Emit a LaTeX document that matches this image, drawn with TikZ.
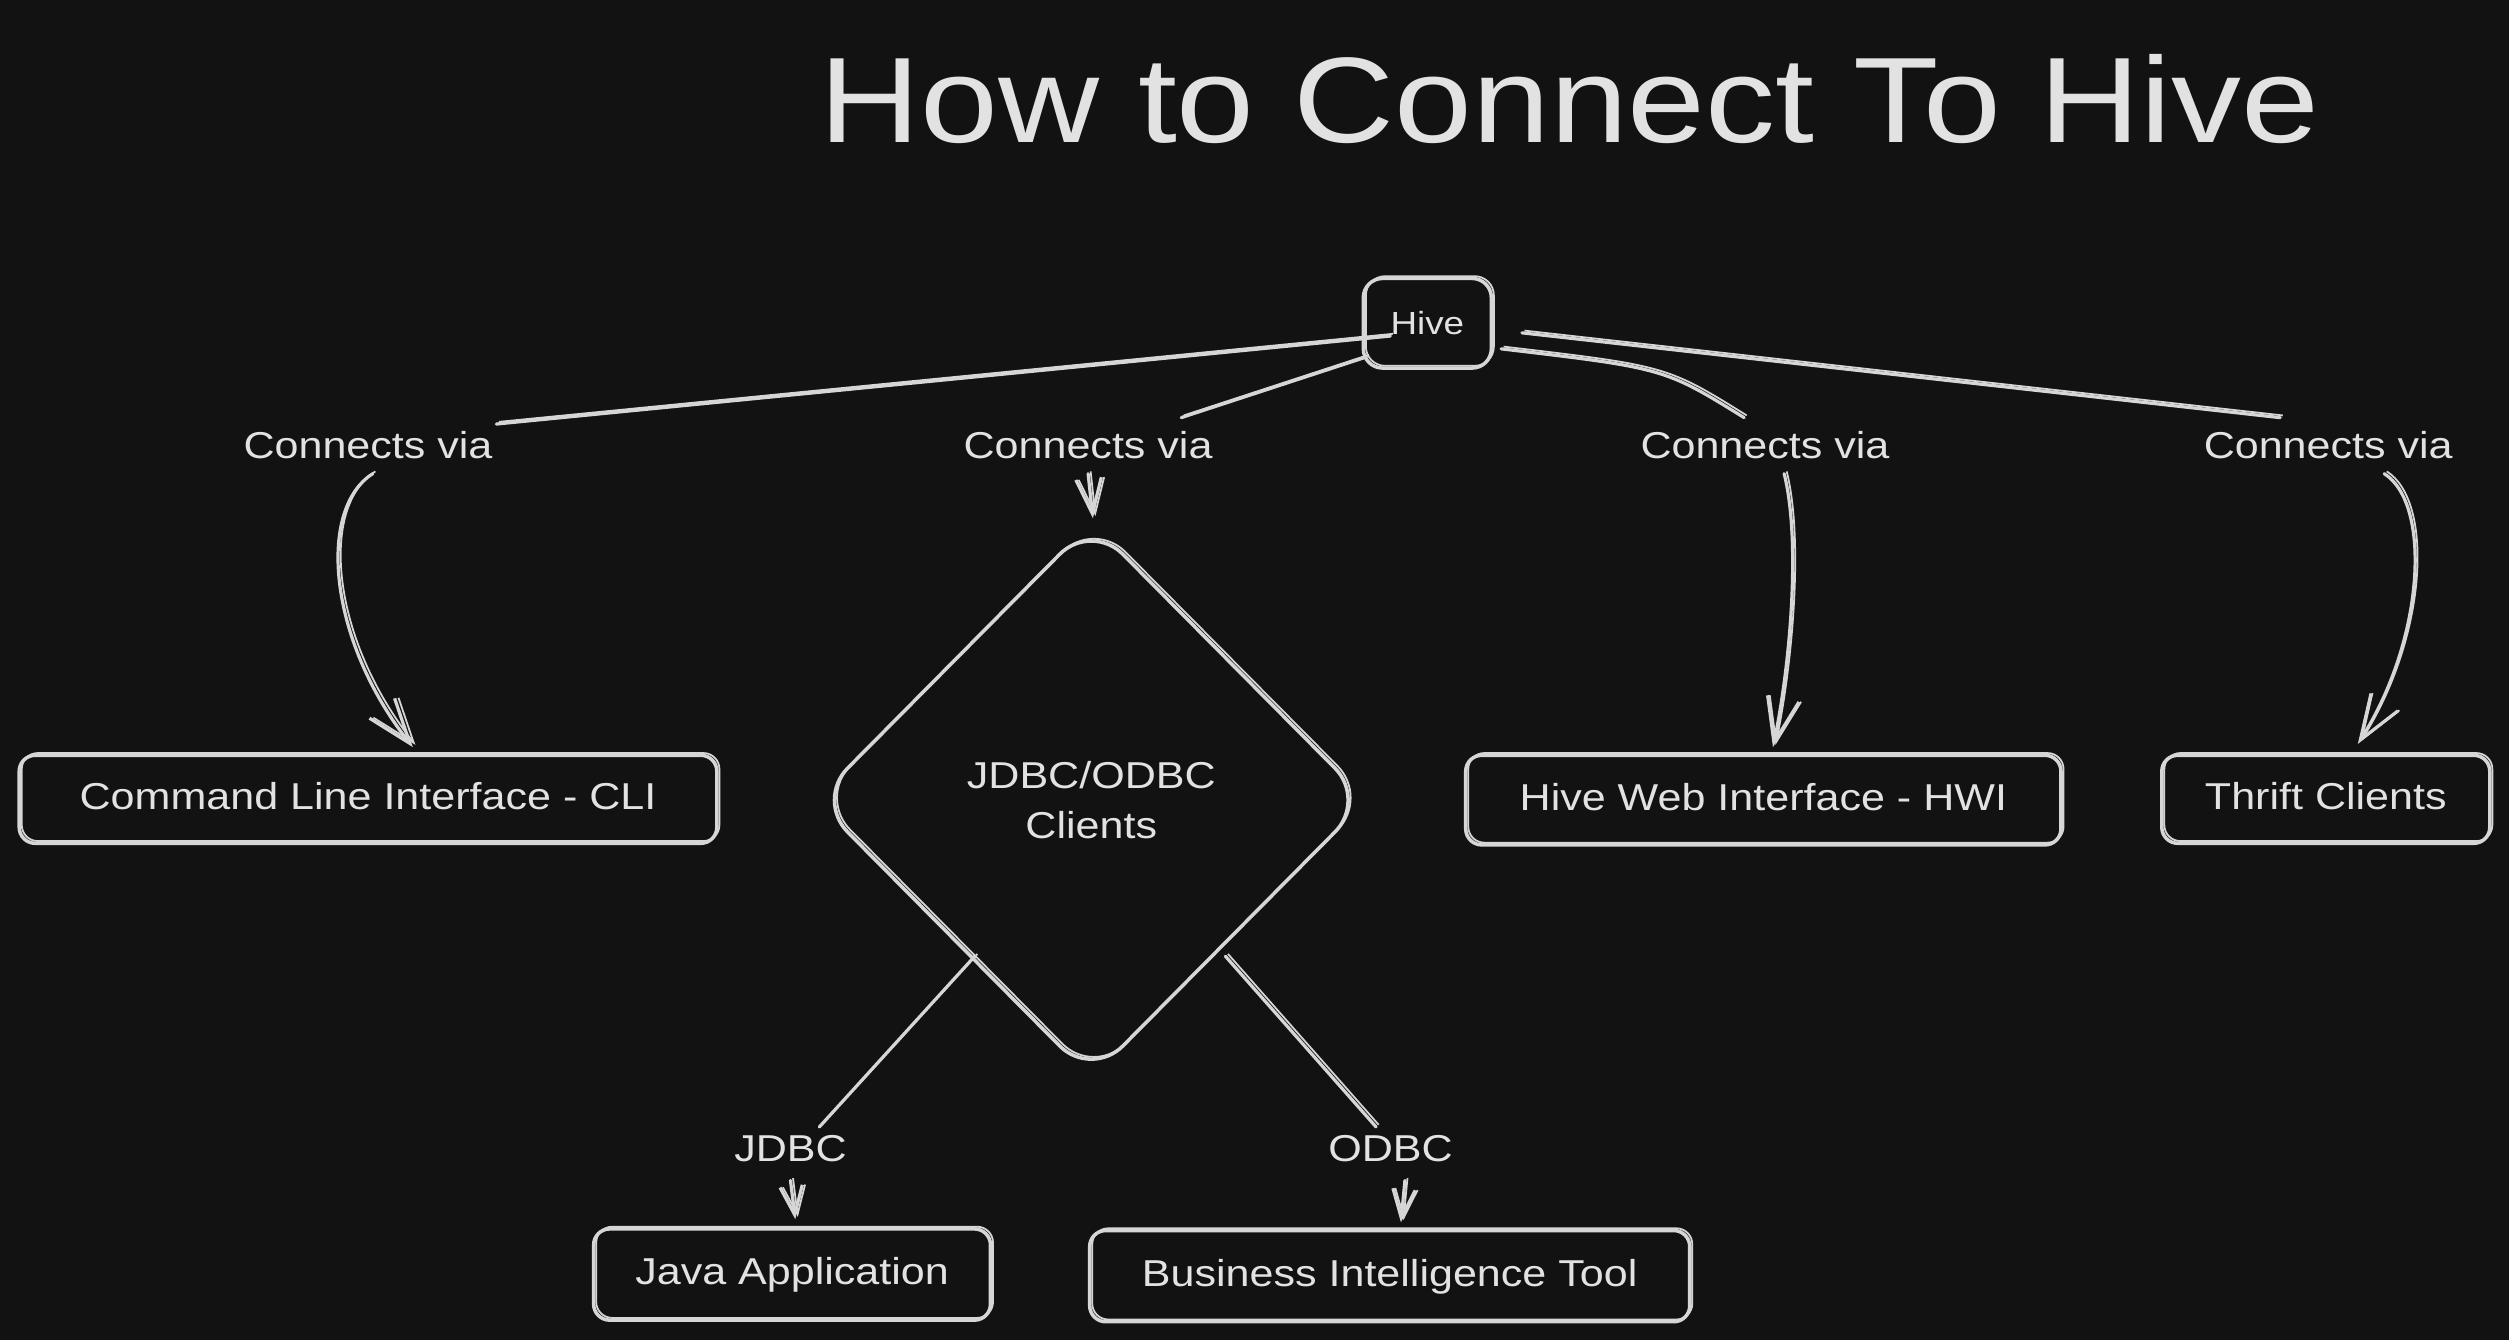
\documentclass[tikz,border=0pt]{standalone}
\usepackage{fontspec}
\setmainfont{Liberation Sans}[FakeStretch=1.15]
\usetikzlibrary{arrows.meta,shapes.geometric,calc}
\definecolor{bg}{HTML}{121212}
\definecolor{ink}{HTML}{D6D6D6}
\definecolor{txt}{HTML}{E2E2E2}
\tikzset{
  sk/.style={preaction={draw=ink, line width=0.55pt, transform canvas={shift={(0.8pt,0.7pt)}}}},
  box/.style={draw=ink, line width=1.1pt, rounded corners=5pt, inner sep=0pt, text=txt,
    font=\fontsize{11.7}{14}\selectfont, text height=8.5pt, text depth=2pt, sk},
  lbl/.style={text=txt, font=\fontsize{11.7}{14}\selectfont, inner sep=1pt},
  conn/.style={draw=ink, line width=1pt, sk, line cap=round},
  arr/.style={conn, -{Straight Barb[length=14pt,width=10pt]}},
  sarr/.style={conn, -{Straight Barb[length=9pt,width=7pt]}},
}
\begin{document}
\begin{tikzpicture}[x=0.5pt,y=-0.5pt]
\fill[bg] (0,0) rectangle (1568,837.4);
\useasboundingbox (0,0) rectangle (1568,837.4);

% title
\node[text=txt, font=\fontsize{38}{40}\selectfont, anchor=base, inner sep=0pt] (title) at (981,89) {How to Connect To Hive};

% nodes
\node[box, rounded corners=6pt, minimum width=40pt, minimum height=28pt, font=\fontsize{10}{12}\selectfont, text height=7.3pt, text depth=0pt] (hive) at (892,202) {Hive};
\node[box, minimum width=218pt, minimum height=27.5pt] (cli) at (230,499.5) {Command Line Interface - CLI};
\node[box, minimum width=186pt, minimum height=28pt] (hwi) at (1102,500) {Hive Web Interface - HWI};
\node[box, minimum width=102.5pt, minimum height=27.5pt] (thrift) at (1453.5,499.5) {Thrift Clients};
\node[box, minimum width=124pt, minimum height=28.5pt] (java) at (495,796.5) {Java Application};
\node[box, minimum width=187.5pt, minimum height=28.5pt] (bi) at (868.5,797.5) {Business Intelligence Tool};
\node[box, diamond, rounded corners=14pt, minimum width=172.5pt, minimum height=174pt, align=center,
  text height=, text depth=, inner sep=2pt] (jo) at (682,500) {JDBC/ODBC\\[1.5pt]Clients};

% labels
\node[lbl] (c1) at (230,278) {Connects via};
\node[lbl] (c2) at (680,278) {Connects via};
\node[lbl] (c3) at (1103,278) {Connects via};
\node[lbl] (c4) at (1455,278) {Connects via};
\node[lbl] (jdbc) at (494,718) {JDBC};
\node[lbl] (odbc) at (869,718) {ODBC};

% connectors from Hive
\draw[conn] ($(hive.west)+(18,8)$) -- ($(c1.north east)+(0,-2)$);
\draw[conn] ($(hive.south west)+(3,-8)$) -- ($(c2.north east)+(-22,-6)$);
\draw[conn] ($(hive.east)+(5,16)$) .. controls (1040,230) .. ($(c3.north)+(-13,-6)$);
\draw[conn] ($(hive.east)+(18,6)$) -- ($(c4.north)+(-30,-6)$);

% arrows from labels
\draw[arr] ($(c1.south)+(3,7)$) .. controls (198,318) and (205,400) .. ($(cli.north)+(28,-4)$);
\draw[sarr, -{Straight Barb[length=11pt,width=8pt]}] ($(c2.south)+(0,7)$) -- ($(jo.north)+(1,-1)$);
\draw[arr] ($(c3.south)+(12,7)$) .. controls (1126,340) and (1118,420) .. ($(hwi.north)+(6,-4)$);
\draw[arr] ($(c4.south)+(35,7)$) .. controls (1520,315) and (1515,400) .. ($(thrift.north)+(20,-6)$);

% from diamond
\draw[conn] ($(jo.south west)+(14,10)$) -- ($(jdbc.north)+(18,-3)$);
\draw[conn] ($(jo.south east)+(-3,10)$) -- ($(odbc.north)+(-9,-3)$);
\draw[sarr] ($(jdbc.south)+(0,9)$) -- ($(java.north)+(2,-5)$);
\draw[sarr] ($(odbc.south)+(9,9)$) -- ($(bi.north)+(7,-4)$);
\end{tikzpicture}
\end{document}
